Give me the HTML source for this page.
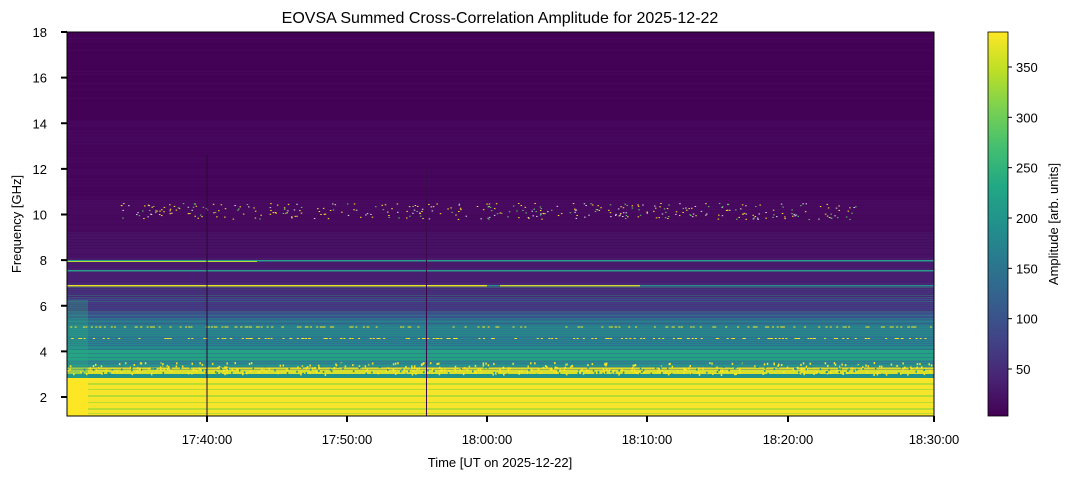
<!DOCTYPE html>
<html><head><meta charset="utf-8"><style>
body{margin:0;background:#fff;width:1073px;height:479px;overflow:hidden;font-family:"Liberation Sans",sans-serif}
</style></head><body>
<svg id="s" width="1073" height="479" xmlns="http://www.w3.org/2000/svg" font-family="Liberation Sans, sans-serif">
<defs>
<linearGradient id="vir" x1="0" y1="1" x2="0" y2="0">
<stop offset="0" stop-color="#440154"/><stop offset="0.1" stop-color="#482475"/><stop offset="0.2" stop-color="#414487"/>
<stop offset="0.3" stop-color="#355f8d"/><stop offset="0.4" stop-color="#2a788e"/><stop offset="0.5" stop-color="#21918c"/>
<stop offset="0.6" stop-color="#22a884"/><stop offset="0.7" stop-color="#44bf70"/><stop offset="0.8" stop-color="#7ad151"/>
<stop offset="0.9" stop-color="#bddf26"/><stop offset="1" stop-color="#fde725"/></linearGradient>
<clipPath id="cp"><rect x="67" y="32" width="867" height="384"/></clipPath>
</defs>
<g id="plot" clip-path="url(#cp)"></g>
<rect x="67" y="32" width="867" height="384" fill="none" stroke="#000" stroke-width="1"/>
<rect x="988" y="32" width="20" height="384" fill="url(#vir)" stroke="#000" stroke-width="0.8"/>
<text x="500" y="23" font-size="16" text-anchor="middle">EOVSA Summed Cross-Correlation Amplitude for 2025-12-22</text>
<text x="500" y="467" font-size="13" text-anchor="middle">Time [UT on 2025-12-22]</text>
<text transform="translate(21,224) rotate(-90)" font-size="13" text-anchor="middle">Frequency [GHz]</text>
<text transform="translate(1058,224) rotate(-90)" font-size="13" text-anchor="middle">Amplitude [arb. units]</text>
<g id="ax" font-size="13"></g>
</svg>
<script>
const NS="http://www.w3.org/2000/svg";
const P=document.getElementById('plot'),A=document.getElementById('ax');
function el(p,t,a,txt){const e=document.createElementNS(NS,t);for(const k in a)e.setAttribute(k,a[k]);if(txt!==undefined)e.textContent=txt;p.appendChild(e);return e;}
function R(x,y,w,h,c){el(P,'rect',{x,y,width:w,height:h,fill:c});}
let seed=7;function rnd(){seed=(seed*16807)%2147483647;return seed/2147483647;}
const bands=[[32,120,'#440256'],[120,200,'#45055a'],[200,232,'#46095d'],[232,258,'#471164'],[258,268,'#481a6c'],[268,283,'#481f70'],[283,298,'#472876'],[298,312,'#45347f'],[312,318,'#3b528b'],[318,326,'#2c728e'],[326,337,'#287c8e'],[337,350,'#26868e'],[350,360,'#23a183'],[360,367,'#2a8f8c'],[367,374,'#d8e02c'],[374,378,'#21918c'],[378,416,'#f6e52a']];
bands.forEach(b=>R(67,b[0],867,b[1]-b[0],b[2]));
[[383,2],[389,1],[395,2],[402,1],[408,2],[413,1]].forEach(s=>R(88,s[0],846,s[1],'#b8dd30'));
for(let y=32;y<260;y+=3)R(67,y,867,1,rnd()<0.5?'rgba(80,20,110,0.25)':'rgba(60,0,80,0.2)');
for(let y=287;y<370;y+=2)R(67,y,867,1,'rgba('+(rnd()<0.5?'60,80,140':'40,160,130')+',0.35)');
// thin lines
R(67,260,867,1.5,'#2a9a8a');R(67,261,190,1,'#b5d83a');
R(67,270,867,1.5,'#2a9a8a');
R(67,285,867,1.5,'#2c8a8c');R(67,285,420,1.5,'#e6e22a');R(500,285,140,1.5,'#c8dc3a');
R(67,299,867,1,'#3e4a89');
// left edge block
R(67,300,21,78,'rgba(40,170,130,0.35)');R(67,378,21,38,'#fde725');
// speckles near 10 GHz
for(let i=0;i<380;i++){const x=120+rnd()*740;const y=203+rnd()*16;const c=rnd();R(x,y,1.5,1,c<0.55?'#fde725':c<0.8?'#5ec962':'#d8d8f0');}
for(let i=0;i<160;i++){R(70+rnd()*860,326.5,2,1,'#fde725');R(70+rnd()*860,338,2,1,'#fde725');}
for(let i=0;i<600;i++)R(67+rnd()*867,362+rnd()*12,1.5,2,rnd()<0.65?'#fde725':'#21918c');
R(206.5,155,1,261,'#2a0838');R(426,170,1,246,'#3a0a4a');
for(let v=2;v<=18;v+=2){const y=397-(v-2)*22.8125;el(A,'line',{x1:61,x2:67,y1:y,y2:y,stroke:'#000','stroke-width':2});el(A,'text',{x:47,y:y+5,'text-anchor':'end'},v);}
[[207,'17:40:00'],[347,'17:50:00'],[487,'18:00:00'],[647,'18:10:00'],[788,'18:20:00'],[934,'18:30:00']].forEach(t=>{el(A,'line',{x1:t[0],x2:t[0],y1:416,y2:422,stroke:'#000','stroke-width':2});el(A,'text',{x:t[0],y:444,'text-anchor':'middle'},t[1]);});
[50,100,150,200,250,300,350].forEach(v=>{const y=369-(v-50)*1.0067;el(A,'line',{x1:1008,x2:1012,y1:y,y2:y,stroke:'#000'});el(A,'text',{x:1016,y:y+5},v);});
</script>
</body></html>
